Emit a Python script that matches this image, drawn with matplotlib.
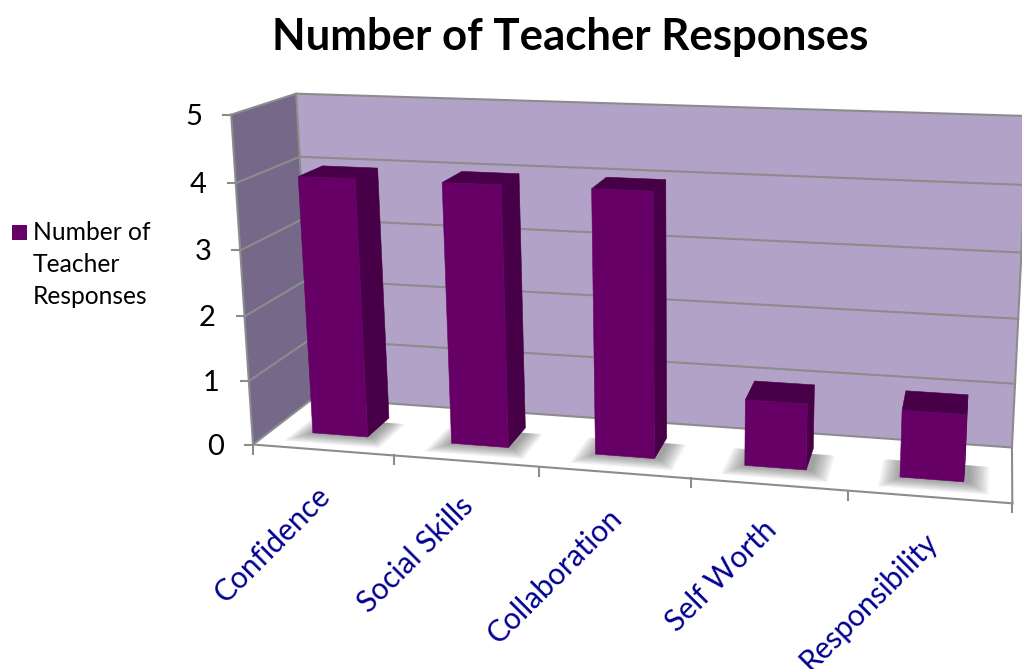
import numpy as np
import matplotlib.pyplot as plt
from matplotlib.patches import Polygon

categories = ['Confidence', 'Social Skills', 'Collaboration', 'Self Worth', 'Responsibility']
values = [4, 4, 4, 1, 1]
value_ticks = [0, 1, 2, 3, 4, 5]
title = 'Number of Teacher Responses'
legend_lines = ['Number of', 'Teacher', 'Responses']

plt.rcParams['font.family'] = ['Lato', 'DejaVu Sans']

# points of the chart box seen in the picture: (category, depth, value) -> pixel
box_3d = [(0, 0, 0), (1, 0, 0), (2, 0, 0), (3, 0, 0), (4, 0, 0), (5, 0, 0),
          (0, 1, 0), (5, 1, 0), (0, 0, 5), (0, 1, 5), (5, 1, 5),
          (0, 0, 1), (0, 0, 2), (0, 0, 3), (0, 0, 4), (0, 1, 4), (5, 1, 4)]
box_px = [(253, 445), (393, 456), (539, 467), (692, 479), (848, 491), (1012, 503),
          (313, 398), (1012, 447), (230, 115), (296, 94), (1028, 116),
          (249, 380), (245, 316), (241, 250), (236, 183), (300, 157), (1025, 185)]


def fit_camera(pts, px):
    rows = []
    for (x, y, z), (u, v) in zip(pts, px):
        rows.append([x, y, z, 1, 0, 0, 0, 0, -u * x, -u * y, -u * z, -u])
        rows.append([0, 0, 0, 0, x, y, z, 1, -v * x, -v * y, -v * z, -v])
    return np.linalg.svd(np.array(rows, dtype=float))[2][-1].reshape(3, 4)


camera = fit_camera(box_3d, box_px)


def project(x, y, z):
    p = camera @ np.array([x, y, z, 1.0])
    return p[0] / p[2], p[1] / p[2]


def face(ax, corners, color, zorder, alpha=1.0, edge='none'):
    ax.add_patch(Polygon([project(*c) for c in corners], closed=True, facecolor=color,
                         edgecolor=edge, lw=0.4, alpha=alpha, zorder=zorder))


fig = plt.figure(figsize=(10.22, 6.69), dpi=100)
ax = fig.add_axes([0, 0, 1, 1])
ax.set_xlim(0, 1022)
ax.set_ylim(669, 0)
ax.axis('off')

n = len(categories)
top = value_ticks[-1]
grid = '#8c8c8c'

# walls and floor
face(ax, [(0, 1, 0), (n, 1, 0), (n, 1, top), (0, 1, top)], '#b3a2c7', 1)
face(ax, [(0, 0, 0), (0, 1, 0), (0, 1, top), (0, 0, top)], '#766888', 1)
face(ax, [(0, 0, 0), (n, 0, 0), (n, 1, 0), (0, 1, 0)], 'white', 1)

for v in value_ticks:
    pts = [project(0, 0, v), project(0, 1, v), project(n, 1, v)]
    ax.plot(*zip(*pts), color=grid, lw=1.5, zorder=2, solid_joinstyle='round')
    u0, v0 = pts[0]
    ax.plot([u0 - 8, u0], [v0, v0], color=grid, lw=1.5, zorder=2)
    ax.text(u0 - 29, v0 + 2, str(v), ha='right', va='center', fontsize=21, color='black')

for a, b in [((0, 0, 0), (0, 0, top)), ((0, 1, 0), (0, 1, top)), ((0, 0, 0), (n, 0, 0)),
             ((n, 0, 0), (n, 1, 0)), ((n, 1, 0), (n, 1, top))]:
    ax.plot(*zip(project(*a), project(*b)), color=grid, lw=1.5, zorder=2)

for i in range(n + 1):
    u0, v0 = project(i, 0, 0)
    ax.plot([u0, u0], [v0, v0 + 9], color=grid, lw=1.5, zorder=2)

# bars with a soft shadow on the floor
half = 0.2
d0, d1 = 0.3, 0.7
for i, (name, val) in enumerate(zip(categories, values)):
    x0, x1 = i + 0.5 - half, i + 0.5 + half
    for k in range(12):
        g = 0.005 + k * 0.011
        face(ax, [(x0 - g, d0 - 1.5 * g, 0), (x1 + 0.03 + g, d0 - 1.5 * g, 0),
                  (x1 + 0.03 + g, d1 - 0.1, 0), (x0 - g, d1 - 0.1, 0)], '#404040', 3, alpha=0.05)
    face(ax, [(x1, d0, 0), (x1, d1, 0), (x1, d1, val), (x1, d0, val)], '#470047', 4, edge='#470047')
    face(ax, [(x0, d0, val), (x1, d0, val), (x1, d1, val), (x0, d1, val)], '#470047', 4, edge='#470047')
    face(ax, [(x0, d0, 0), (x1, d0, 0), (x1, d0, val), (x0, d0, val)], '#660066', 5, edge='#660066')

    u, v = project(i + 0.5, 0, 0)
    ax.text(u - 7, v + 31, name, rotation=45, rotation_mode='anchor', ha='right', va='top',
            fontsize=21.5, color='#000090')

ax.text(570, 37, title, ha='center', va='center', fontsize=31.5, fontweight='bold', color='black')

ax.add_patch(Polygon([(12, 225), (27, 225), (27, 240), (12, 240)], closed=True,
                     facecolor='#660066', edgecolor='none'))
for line, y in zip(legend_lines, [232, 265, 297]):
    ax.text(33, y, line, ha='left', va='center', fontsize=17.7, color='black')

fig.savefig('out.png', dpi=100)
